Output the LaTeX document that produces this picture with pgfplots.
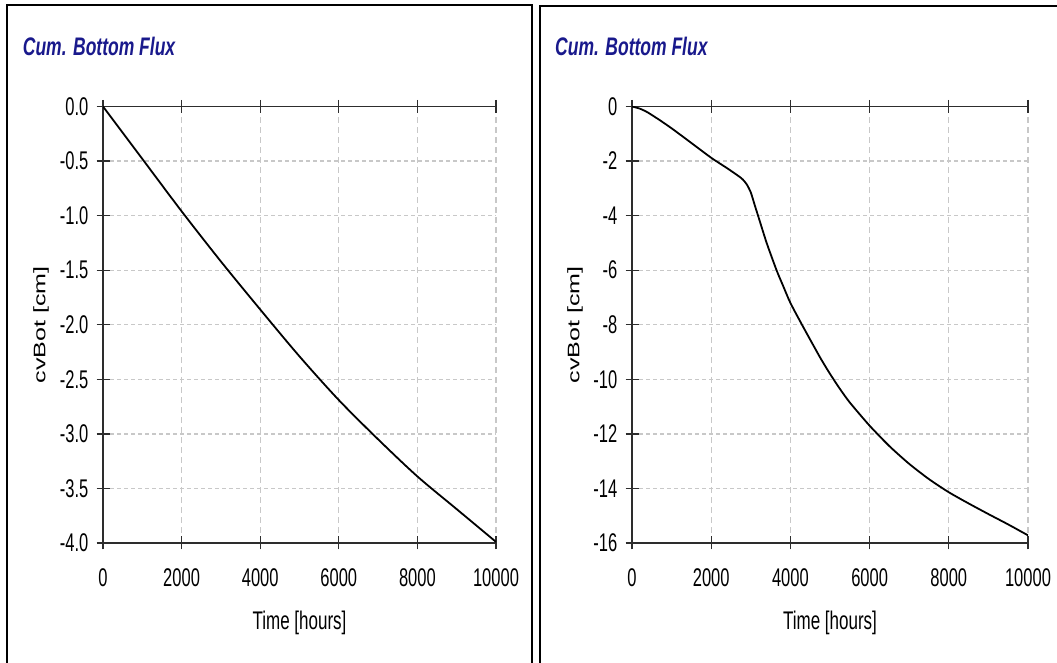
\documentclass[border=0pt]{standalone}
\usepackage{pgfplots}
\pgfplotsset{compat=1.18}
\usepackage{fontspec}
\setmainfont{Liberation Sans}
\usepackage{graphicx}
\definecolor{titleblue}{RGB}{25,25,140}
\definecolor{gridgray}{RGB}{200,200,200}
\definecolor{axgray}{RGB}{45,45,45}
\newcommand\tk[1]{\scalebox{1}[1.55]{\fontsize{16.5}{18}\selectfont #1}}
\newcommand\lb[1]{\scalebox{1}[1.5]{\fontsize{17}{19}\selectfont #1}}
\newcommand\ylb[1]{\scalebox{1.5}[1]{\fontsize{16.7}{19}\selectfont #1}}
\newcommand\ttl[1]{\scalebox{1}[1.45]{\fontsize{17.5}{20}\selectfont\bfseries\itshape #1}}

\pgfplotstableread{
x y
0 0
1000 -0.48
2000 -0.96
3000 -1.42
4000 -1.86
5000 -2.29
6000 -2.69
7000 -3.05
8000 -3.39
9000 -3.69
10000 -3.99
}\leftdata

\pgfplotstableread{
x y
0 0
200 -0.08
400 -0.22
700 -0.50
1000 -0.80
1400 -1.23
2000 -1.88
2400 -2.26
2700 -2.56
2800 -2.68
2900 -2.86
3000 -3.15
3100 -3.62
3200 -4.08
3400 -5.00
3650 -6.00
3820 -6.59
4000 -7.20
4300 -8.02
4750 -9.20
5000 -9.80
5250 -10.35
5500 -10.85
6000 -11.70
6500 -12.45
7000 -13.10
7500 -13.66
8000 -14.14
8500 -14.55
9000 -14.94
9500 -15.32
10000 -15.72
}\rightdata

\pgfplotsset{panel/.style={
  scale only axis,
  height=436.5pt,
  axis x line=box, axis y line=left,
  axis line style={-, draw=axgray, line width=1.6pt},
  every outer y axis line/.append style={-},
  every outer x axis line/.append style={-},
  tick align=center,
  major tick length=13pt,
  tick style={draw=axgray, line width=1.3pt},
  xmin=0, xmax=10000,
  scaled x ticks=false, scaled y ticks=false,
  xtick={0,2000,4000,6000,8000,10000},
  xticklabels={\tk{0},\tk{2000},\tk{4000},\tk{6000},\tk{8000},\tk{10000}},
  grid=major,
  x grid style={draw=gridgray, line width=1.3pt, dash pattern=on 6pt off 4pt},
  y grid style={draw=gridgray, line width=1.3pt, dash pattern=on 4pt off 3pt},
  xlabel={\lb{Time [hours]}},
  xlabel style={at={(axis description cs:0.5,0)}, anchor=base, yshift=-87pt, inner sep=0pt},
  ylabel={\ylb{cvBot [cm]}},
  xticklabel style={inner sep=0pt, anchor=north, yshift=-19pt},
  yticklabel style={inner sep=0pt, anchor=east, xshift=-8pt},
}}

\begin{document}
\begin{tikzpicture}
\useasboundingbox (0,0) rectangle (1057pt,663pt);
\clip (0,0) rectangle (1057pt,663pt);
\draw[line width=2.4pt] (7pt,-20pt) -- (7pt,658pt) -- (532pt,658pt) -- (532pt,-20pt);
\draw[line width=2.4pt] (540pt,-20pt) -- (540pt,657pt) -- (1080pt,657pt);
\node[anchor=base west, inner sep=0pt, text=titleblue] at (22.7pt,607pt) {\ttl{Cum. Bottom Flux}};
\node[anchor=base west, inner sep=0pt, text=titleblue] at (555pt,607pt) {\ttl{Cum. Bottom Flux}};

\begin{axis}[panel, at={(103pt,120pt)}, anchor=south west, width=393pt,
  ymin=-4, ymax=0,
  ytick={-4,-3.5,-3,-2.5,-2,-1.5,-1,-0.5,0},
  yticklabels={\tk{-4.0},\tk{-3.5},\tk{-3.0},\tk{-2.5},\tk{-2.0},\tk{-1.5},\tk{-1.0},\tk{-0.5},\tk{0.0}},
  ylabel style={at={([xshift=-62pt]axis description cs:0,0.5)}, anchor=center, inner sep=0pt},
]
\addplot[black, line width=1.8pt, smooth, tension=0.5] table[x=x,y=y] {\leftdata};
\end{axis}

\begin{axis}[panel, at={(632pt,120pt)}, anchor=south west, width=396pt,
  ymin=-16, ymax=0,
  ytick={-16,-14,-12,-10,-8,-6,-4,-2,0},
  yticklabels={\tk{-16},\tk{-14},\tk{-12},\tk{-10},\tk{-8},\tk{-6},\tk{-4},\tk{-2},\tk{0}},
  ylabel style={at={([xshift=-57pt]axis description cs:0,0.5)}, anchor=center, inner sep=0pt},
]
\addplot[black, line width=1.8pt, smooth, tension=0.4] table[x=x,y=y] {\rightdata};
\end{axis}
\end{tikzpicture}
\end{document}
